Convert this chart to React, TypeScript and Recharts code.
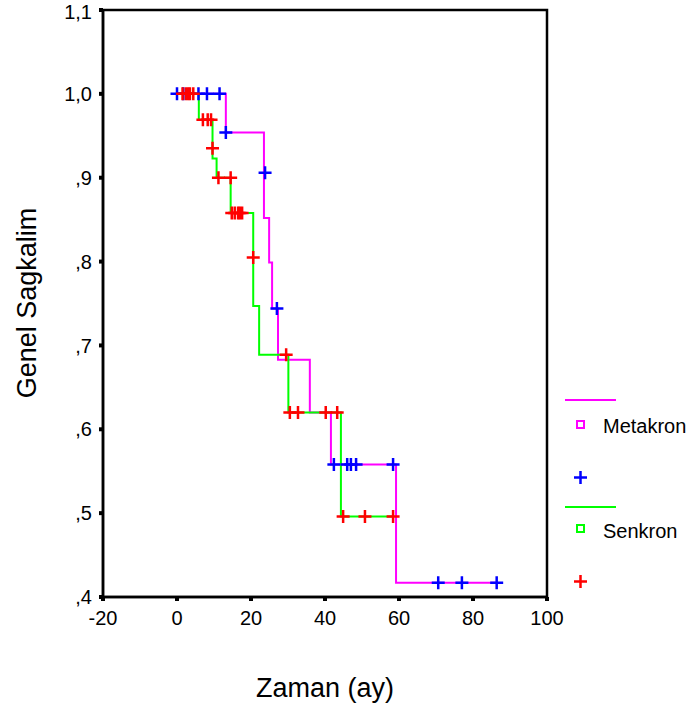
import React from "react";
import {
  ComposedChart,
  Line,
  Scatter,
  XAxis,
  YAxis,
  ReferenceArea,
  Legend,
} from "recharts";

// Kaplan-Meier steps (time in months, survival)
const metaTimes = [0, 13.2, 23.5, 24.9, 25.7, 27.3, 35.9, 41.6, 59.2];
const metaSurv = [1.0, 0.954, 0.852, 0.799, 0.744, 0.683, 0.62, 0.558, 0.417];
const metaEnd = 86.4;

const senTimes = [0, 5.9, 9.6, 10.7, 14.5, 20.6, 22.2, 30.1, 44.3];
const senSurv = [1.0, 0.969, 0.923, 0.9, 0.858, 0.747, 0.689, 0.62, 0.496];
const senEnd = 58.4;

// censored cases
const metaCensT = [0, 1.7, 5.8, 8.1, 11.5, 13.2, 23.8, 27.0, 42.4, 46.0, 47.0, 48.4, 58.4, 70.6, 77.0, 86.4];
const metaCensS = [1, 1, 1, 1, 1, 0.954, 0.906, 0.744, 0.558, 0.558, 0.558, 0.558, 0.558, 0.417, 0.417, 0.417];

const senCensT = [1.5, 2.4, 3.0, 3.5, 4.4, 7.0, 8.3, 9.2, 9.6, 11.2, 14.5, 14.8, 15.6, 16.5, 17.0, 17.6, 20.6, 29.5, 30.5, 32.7, 40.2, 43.3, 44.9, 50.8, 58.4];
const senCensS = [1, 1, 1, 1, 1, 0.969, 0.969, 0.969, 0.935, 0.9, 0.9, 0.858, 0.858, 0.858, 0.858, 0.858, 0.805, 0.689, 0.62, 0.62, 0.62, 0.62, 0.496, 0.496, 0.496];

const xTicks = [-20, 0, 20, 40, 60, 80, 100];
const yTicks = [0.4, 0.5, 0.6, 0.7, 0.8, 0.9, 1.0, 1.1];

const steps = (ts: number[], ss: number[], end: number) =>
  [...ts.map((t, i) => ({ t, s: ss[i] })), { t: end, s: ss[ss.length - 1] }];

const pts = (ts: number[], ss: number[]) => ts.map((t, i) => ({ t, s: ss[i] }));

const metaData = steps(metaTimes, metaSurv, metaEnd);
const senData = steps(senTimes, senSurv, senEnd);
const metaCens = pts(metaCensT, metaCensS);
const senCens = pts(senCensT, senCensS);

const FONT = "Liberation Sans, Arial, sans-serif";

const plus = (color: string) => (p: any) => (
  <path
    d={`M${p.cx - 6.5},${p.cy}h13M${p.cx},${p.cy - 6.5}v13`}
    stroke={color}
    strokeWidth={2.5}
    fill="none"
  />
);

const fmtY = (v: number) =>
  v >= 1 ? v.toFixed(1).replace(".", ",") : "," + Math.round(v * 10);

function KeyBox() {
  const txt = { position: "absolute" as const, left: 603, fontSize: 20, color: "#000", fontFamily: FONT };
  return (
    <div style={{ position: "absolute", left: 0, top: 0, width: 695, height: 711, pointerEvents: "none" }}>
      <div style={{ position: "absolute", left: 565, top: 399, width: 51, height: 2, background: "#ff00ff" }} />
      <div style={{ position: "absolute", left: 576, top: 420, width: 5, height: 5, border: "2px solid #ff00ff" }} />
      <div style={{ ...txt, top: 415 }}>Metakron</div>
      <svg style={{ position: "absolute", left: 572, top: 469 }} width={17} height={17}>
        <path d="M2,8.5h13M8.5,2v13" stroke="#0000ff" strokeWidth={2.5} />
      </svg>
      <div style={{ position: "absolute", left: 565, top: 506, width: 51, height: 2, background: "#00ff00" }} />
      <div style={{ position: "absolute", left: 576, top: 524, width: 5, height: 5, border: "2px solid #00ff00" }} />
      <div style={{ ...txt, top: 520 }}>Senkron</div>
      <svg style={{ position: "absolute", left: 572, top: 573 }} width={17} height={17}>
        <path d="M2,8.5h13M8.5,2v13" stroke="#ff0000" strokeWidth={2.5} />
      </svg>
    </div>
  );
}

export default function App() {
  return (
    <div style={{ position: "absolute", left: 0, top: 0, width: 695, height: 711, background: "#fff", fontFamily: FONT }}>
      <ComposedChart width={695} height={711} margin={{ top: 10, right: 148, bottom: 74, left: 43 }}>
        <XAxis
          type="number"
          dataKey="t"
          domain={[-20, 100]}
          ticks={xTicks}
          allowDataOverflow
          height={40}
          axisLine={{ stroke: "#000", strokeWidth: 2.5 }}
          tickLine={{ stroke: "#000", strokeWidth: 4 }}
          tickSize={4}
          tickMargin={10}
          tick={{ fill: "#000", fontSize: 20, fontFamily: FONT }}
        />
        <YAxis
          type="number"
          dataKey="s"
          domain={[0.4, 1.1]}
          ticks={yTicks}
          allowDataOverflow
          width={60}
          tickFormatter={fmtY}
          axisLine={{ stroke: "#000", strokeWidth: 2.5 }}
          tickLine={{ stroke: "#000", strokeWidth: 4 }}
          tickSize={4}
          tickMargin={7}
          tick={{ fill: "#000", fontSize: 20, fontFamily: FONT }}
        />
        <ReferenceArea x1={-20} x2={100} y1={0.4} y2={1.1} fill="none" stroke="#000" strokeWidth={2.5} />
        <Line
          data={metaData}
          dataKey="s"
          type="stepAfter"
          stroke="#ff00ff"
          strokeWidth={2}
          dot={false}
          isAnimationActive={false}
        />
        <Line
          data={senData}
          dataKey="s"
          type="stepAfter"
          stroke="#00ff00"
          strokeWidth={2}
          dot={false}
          isAnimationActive={false}
        />
        <Scatter data={metaCens} dataKey="s" shape={plus("#0000ff")} isAnimationActive={false} />
        <Scatter data={senCens} dataKey="s" shape={plus("#ff0000")} isAnimationActive={false} />
        <Legend content={() => null} />
      </ComposedChart>
      <div
        style={{
          position: "absolute",
          left: 27,
          top: 303,
          transform: "translate(-50%, -50%) rotate(-90deg)",
          fontSize: 27,
          whiteSpace: "nowrap",
          color: "#000",
        }}
      >
        Genel Sagkalim
      </div>
      <div
        style={{
          position: "absolute",
          left: 325,
          top: 688,
          transform: "translate(-50%, -50%)",
          fontSize: 27,
          whiteSpace: "nowrap",
          color: "#000",
        }}
      >
        Zaman (ay)
      </div>
      <KeyBox />
    </div>
  );
}
